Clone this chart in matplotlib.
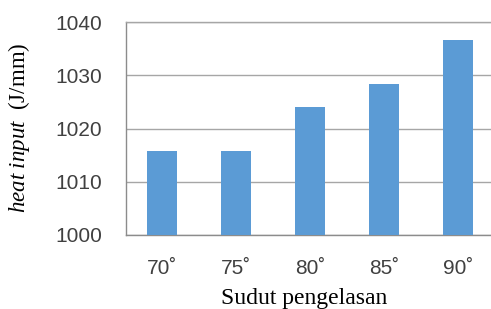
import numpy as np
import matplotlib
matplotlib.use('Agg')
import matplotlib.pyplot as plt

plt.rcParams['mathtext.fontset'] = 'custom'
plt.rcParams['mathtext.rm'] = 'Liberation Serif'
plt.rcParams['mathtext.it'] = 'Liberation Serif:italic'

angles = ['70˚', '75˚', '80˚', '85˚', '90˚']
heat_input = [1015.8, 1015.8, 1024.1, 1028.3, 1036.6]
yticks = [1000, 1010, 1020, 1030, 1040]

fig = plt.figure(figsize=(4.91, 3.09), dpi=100)
ax = fig.add_axes([126 / 491, 1 - 235 / 309, 1 - 126 / 491, (235 - 22) / 309])

x = np.arange(len(angles))
ax.bar(x, heat_input, width=0.4, color='#5B9BD5', zorder=3)

ax.set_ylim(1000, 1040)
ax.set_xlim(-0.49, 4.45)
ax.set_yticks(yticks)
ax.set_xticks(x)
ax.set_xticklabels(angles)
ax.grid(axis='y', color='#a6a6a6', linewidth=1.0, zorder=0)
ax.tick_params(length=0, labelsize=15, labelcolor='#404040')
ax.tick_params(axis='y', pad=17)
ax.tick_params(axis='x', pad=17)
for lab in ax.get_xticklabels() + ax.get_yticklabels():
  lab.set_family('Liberation Sans')

ax.spines['right'].set_visible(False)
ax.spines['top'].set_color('#a6a6a6')
ax.spines['left'].set_color('#8c8c8c')
ax.spines['bottom'].set_color('#8c8c8c')
for s in ['left', 'bottom', 'top']:
  ax.spines[s].set_linewidth(1.0)

ax.set_xlabel('Sudut pengelasan', family='Liberation Serif', fontsize=17, color='black')
ax.xaxis.set_label_coords((304 - 126) / 365, -(288 - 235) / 213)
ax.set_ylabel(r'$heat\ input$  (J/mm)', family='Liberation Serif', fontsize=16.5, color='black')
ax.yaxis.set_label_coords(-(126 - 32) / 365, (235 - 128) / 213)

fig.savefig('out.png', dpi=100)
